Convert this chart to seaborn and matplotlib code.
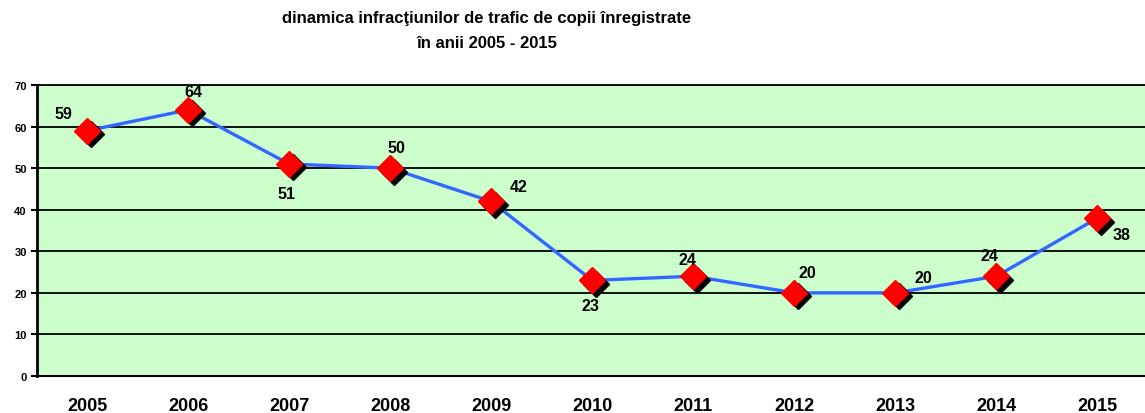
import matplotlib
matplotlib.use("Agg")
import matplotlib.pyplot as plt
import matplotlib.transforms as mtransforms
import seaborn as sns
import pandas as pd

# data
years = ["2005", "2006", "2007", "2008", "2009", "2010", "2011", "2012", "2013", "2014", "2015"]
cases = [59, 64, 51, 50, 42, 23, 24, 20, 20, 24, 38]
# label offsets in pixels (dx, dy) relative to each point
label_offsets = [(-24, 17), (5, 18), (-3, -30), (6, 21), (27, 15), (-2, -25),
                 (-6, 17), (13, 20), (28, 15), (-7, 21), (24, -16)]

df = pd.DataFrame({"year": years, "cases": cases})
df["pos"] = range(len(years))

sns.set_style("white")
plt.rcParams["font.family"] = ["Liberation Sans", "DejaVu Sans"]
plt.rcParams["font.weight"] = "bold"
plt.rcParams["text.color"] = "black"
plt.rcParams["xtick.color"] = "black"
plt.rcParams["ytick.color"] = "black"

fig = plt.figure(figsize=(11.45, 4.14), dpi=100)
ax = fig.add_axes([36.5 / 1145, 37 / 414, (1148 - 36.5) / 1145, 291 / 414])
ax.set_facecolor("#CCFFCC")

# horizontal grid lines
for v in range(10, 80, 10):
    ax.axhline(v, color="black", lw=1.3, zorder=1)

sns.lineplot(data=df, x="pos", y="cases", color="#3366FF", lw=2.4, ax=ax, zorder=2)

# shadow of markers
shadow = ax.transData + mtransforms.ScaledTranslation(3.5 / 100, -3.5 / 100, fig.dpi_scale_trans)
ax.plot(df["pos"], df["cases"], ls="none", marker="D", ms=13, color="black",
        mec="black", transform=shadow, zorder=3)
ax.plot(df["pos"], df["cases"], ls="none", marker="D", ms=13, color="#FF0000",
        mec="#FF0000", zorder=4)

for x, y, (dx, dy) in zip(df["pos"], cases, label_offsets):
    ax.annotate(str(y), (x, y), xytext=(dx, dy), textcoords="offset pixels",
                ha="center", va="center", fontsize=11.5, fontweight="bold",
                color="black", zorder=5)

ax.set_xlim(-0.5, len(years) - 0.5)
ax.set_ylim(0, 70)
ax.set_yticks(range(0, 80, 10))
ax.set_yticklabels([str(v) for v in range(0, 80, 10)], fontsize=8, fontweight="bold")
ax.set_xticks(df["pos"])
ax.set_xticklabels(years, fontsize=13, fontweight="bold")
ax.set_xticks([i - 0.5 for i in range(len(years) + 1)], minor=True)
ax.tick_params(axis="x", which="major", length=0, pad=15)
ax.tick_params(axis="x", which="minor", length=5, width=1.5, direction="out", color="black")
ax.tick_params(axis="y", length=4, width=1.5, direction="out", color="black", pad=3, left=True)
ax.set_xlabel("")
ax.set_ylabel("")

for side in ["left", "bottom", "top"]:
    ax.spines[side].set_visible(True)
    ax.spines[side].set_color("black")
ax.spines["left"].set_linewidth(2)
ax.spines["bottom"].set_linewidth(1.5)
ax.spines["top"].set_linewidth(1.3)
ax.spines["right"].set_visible(False)

fig.text(487 / 1145, 1 - 19 / 414, "dinamica infracţiunilor de trafic de copii înregistrate",
         ha="center", va="center", fontsize=12, fontweight="bold", color="black")
fig.text(487 / 1145, 1 - 44 / 414, "în anii 2005 - 2015",
         ha="center", va="center", fontsize=12, fontweight="bold", color="black")

fig.savefig("out.png", dpi=100)
